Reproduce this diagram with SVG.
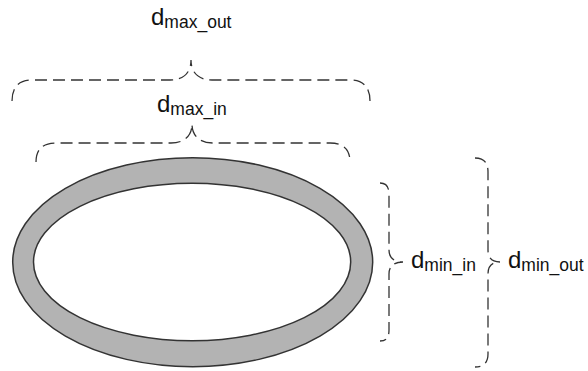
<svg xmlns="http://www.w3.org/2000/svg" width="588" height="371" viewBox="0 0 588 371">
<style>
.brace{fill:none;stroke:#333;stroke-width:1.3;stroke-dasharray:12 6}
.ring{stroke:#333;stroke-width:1.5}
.lbl{font-family:"Liberation Sans",Arial,sans-serif;font-size:24px;fill:#111}
.sub{font-size:17.5px}
</style>
<rect width="588" height="371" fill="#fff"/>
<g id="ring">
<ellipse class="ring" cx="192.7" cy="262.2" rx="180" ry="104.5" fill="#b3b3b3"/>
<ellipse class="ring" cx="192.1" cy="262" rx="158.6" ry="78.7" fill="#fff"/>
</g>
<g id="connectors">
<path class="brace" d="M12,101 C12,88 18,80 32,80 L170,80 C182,80 191,74 191,60 C191,74 200,80 212,80 L350,80 C364,80 370,88 370,101"/>
<path class="brace" d="M36,162 C36,150 42,143 56,143 L171,143 C183,143 192,137 192,124 C192,137 201,143 213,143 L330,143 C344,143 350,150 350,162"/>
<path class="brace" d="M380,183 C386,183 389,186 389,195 L389,250 C389,258 394,262 403,262 C394,262 389,266 389,274 L389,330 C389,338 386,341 380,341"/>
<path class="brace" d="M475,158 C482,158 488,161 488,172 L488,250 C488,258 492,262 500,262 C492,262 488,266 488,274 L488,354 C488,364 482,367 475,367"/>
</g>
<g id="label-max-out"><text class="lbl" x="151" y="25">d<tspan class="sub" dy="3">max_out</tspan></text></g>
<g id="label-max-in"><text class="lbl" x="157" y="112">d<tspan class="sub" dy="3">max_in</tspan></text></g>
<g id="label-min-in"><text class="lbl" x="411" y="268">d<tspan class="sub" dy="3">min_in</tspan></text></g>
<g id="label-min-out"><text class="lbl" x="508" y="268">d<tspan class="sub" dy="3">min_out</tspan></text></g>
</svg>
